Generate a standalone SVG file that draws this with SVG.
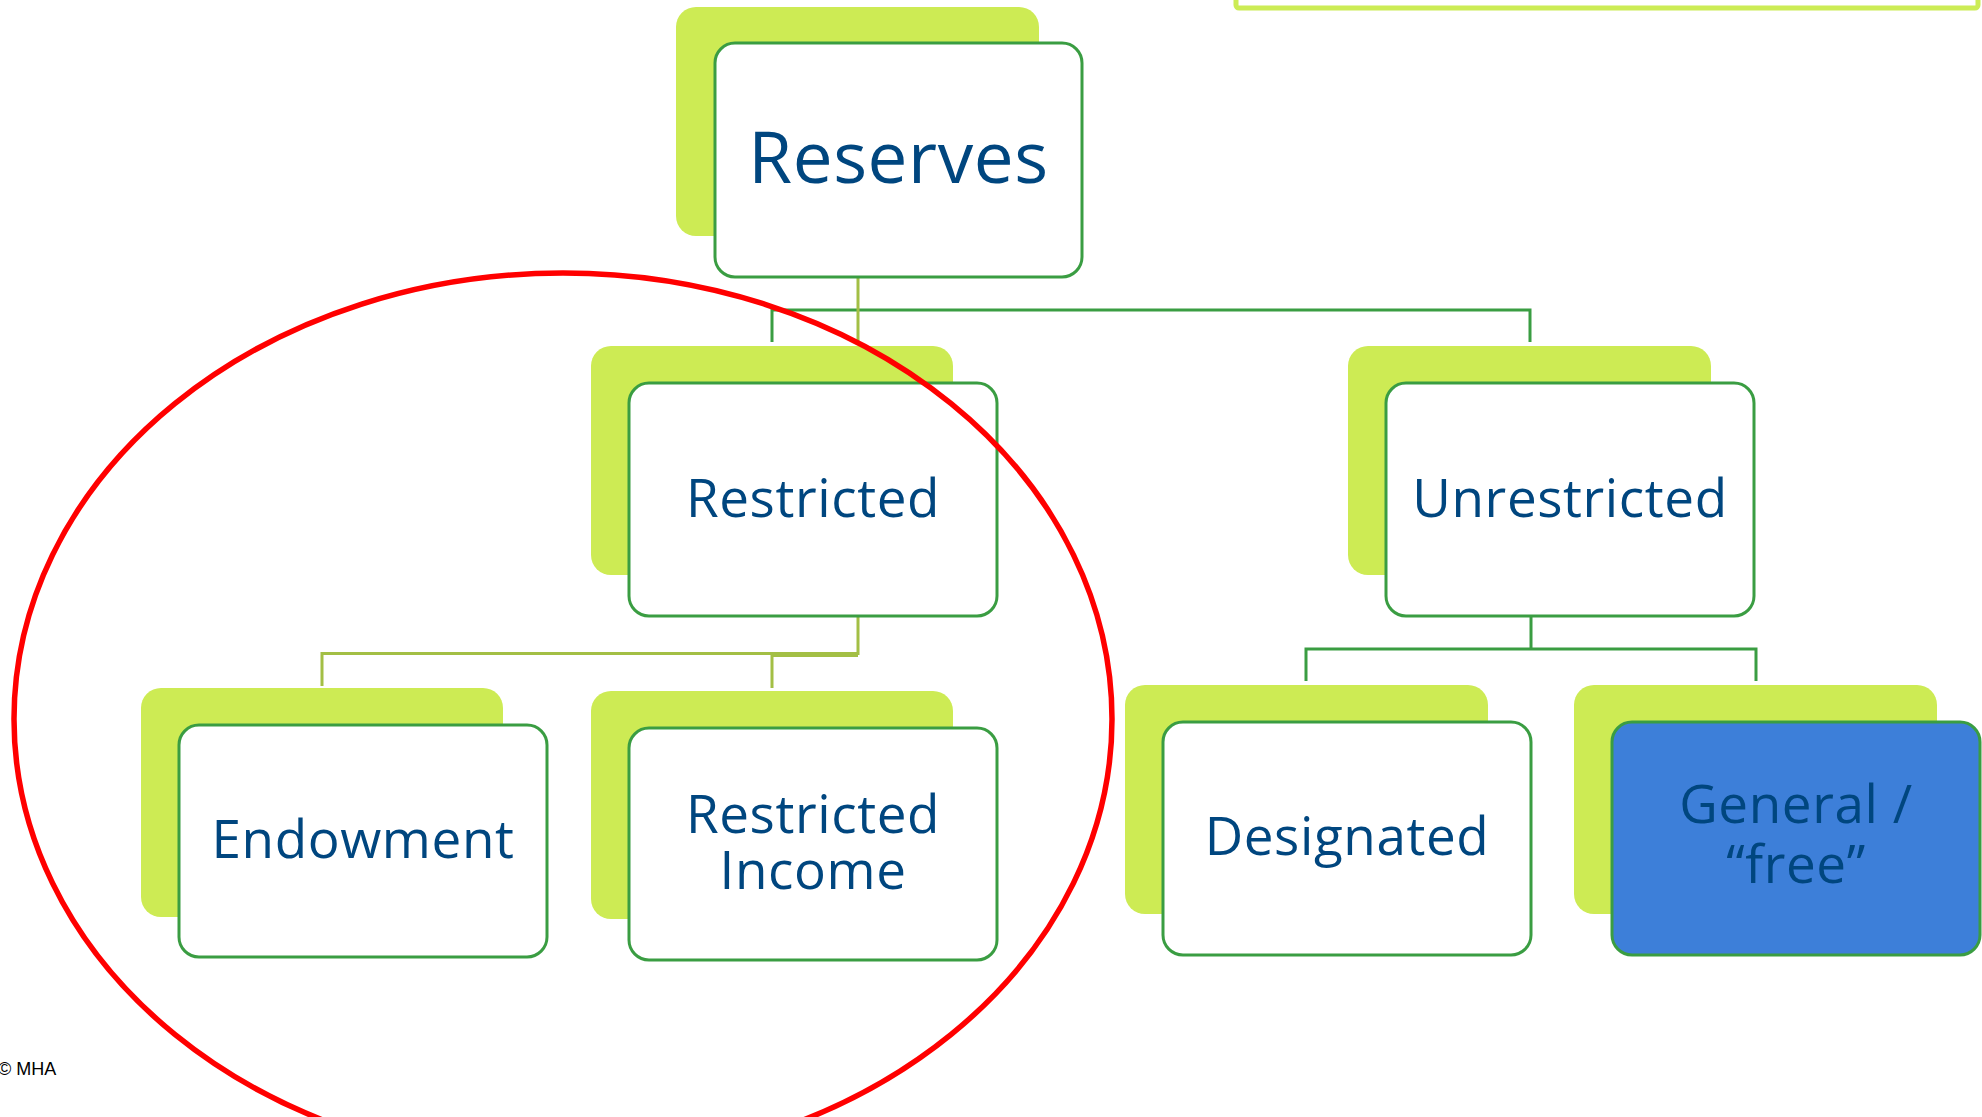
<svg xmlns="http://www.w3.org/2000/svg" width="1982" height="1117" viewBox="0 0 1982 1117">
<style>
.back{fill:#cdeb54}
.front{fill:#ffffff;stroke:#3a9d42;stroke-width:3}
.blue{fill:#3d7fd9;stroke:#3a9d42;stroke-width:3}
.lbl{font-family:"Open Sans","Liberation Sans",sans-serif;fill:#00467f;text-anchor:middle;letter-spacing:0.6px}
.big{font-size:71px}
.mid{font-size:53px}
.g{fill:none;stroke:#3a9d42;stroke-width:3}
.o{fill:none;stroke:#a3bf45;stroke-width:3}
</style>
<rect width="1982" height="1117" fill="#ffffff"/>
<rect x="1236" y="-20" width="742" height="28" rx="3" fill="none" stroke="#ccec55" stroke-width="5"/>
<g id="connectors">
<path class="g" d="M772 342V310H1530V342"/>
<path class="o" d="M858 277V342"/>
<path class="o" d="M858 616V653.5H322V686"/>
<path class="o" d="M858 655.5H772V688"/>
<path class="g" d="M1531 616V649M1306 681V649H1756V681"/>
</g>
<g id="reserves">
<rect class="back" x="676" y="7" width="363" height="229" rx="20"/>
<rect class="front" x="715" y="43" width="367" height="234" rx="20"/>
<text class="lbl big" x="898.5" y="183">Reserves</text>
</g>
<g id="restricted">
<rect class="back" x="591" y="346" width="362" height="229" rx="20"/>
<rect class="front" x="629" y="383" width="368" height="233" rx="20"/>
<text class="lbl mid" x="813" y="517">Restricted</text>
</g>
<g id="unrestricted">
<rect class="back" x="1348" y="346" width="363" height="229" rx="20"/>
<rect class="front" x="1386" y="383" width="368" height="233" rx="20"/>
<text class="lbl mid" x="1570" y="517">Unrestricted</text>
</g>
<g id="endowment">
<rect class="back" x="141" y="688" width="362" height="229" rx="20"/>
<rect class="front" x="179" y="725" width="368" height="232" rx="20"/>
<text class="lbl mid" x="363" y="858">Endowment</text>
</g>
<g id="restricted-income">
<rect class="back" x="591" y="691" width="362" height="228" rx="20"/>
<rect class="front" x="629" y="728" width="368" height="232" rx="20"/>
<text class="lbl mid" x="813" y="833">Restricted</text>
<text class="lbl mid" x="813" y="889">Income</text>
</g>
<g id="designated">
<rect class="back" x="1125" y="685" width="363" height="229" rx="20"/>
<rect class="front" x="1163" y="722" width="368" height="233" rx="20"/>
<text class="lbl mid" x="1347" y="855">Designated</text>
</g>
<g id="general">
<rect class="back" x="1574" y="685" width="363" height="229" rx="20"/>
<rect class="blue" x="1612" y="722" width="368" height="233" rx="20"/>
<text class="lbl mid" x="1796" y="823">General /</text>
<text class="lbl mid" x="1796" y="883">“free”</text>
</g>
<ellipse cx="563" cy="719" rx="549" ry="446" fill="none" stroke="#ff0000" stroke-width="5.5"/>
<text x="-2" y="1075" font-family="Liberation Sans, Arial, sans-serif" font-size="18" fill="#000000">© MHA</text>
</svg>
